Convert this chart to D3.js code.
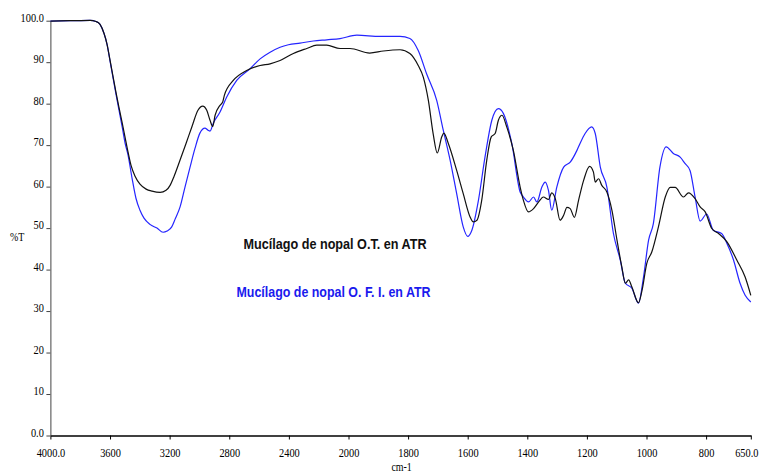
<!DOCTYPE html>
<html>
<head>
<meta charset="utf-8">
<script src="https://cdn.jsdelivr.net/npm/d3@7"></script>
<style>
  html, body { margin: 0; padding: 0; background: #fff; overflow: hidden; }
  svg { display: block; }
</style>
</head>
<body>
<svg id="chart" width="760" height="473"></svg>
<script>
// Wavenumber (cm-1) sampling points and %T readings for the two ATR spectra
const wnOT = [4000,3868,3734,3694,3667,3640,3620,3600,3580,3560,3540,3519,3499,3479,3459,3432,3399,3358,3318,3264,3224,3197,3170,3130,3090,3050,3010,2978,2951,2929,2911,2895,2862,2844,2833,2773,2683,2593,2526,2459,2370,2280,2213,2146,2057,1995,1929,1883,1827,1794,1766,1749,1732,1716,1702,1687,1680,1665,1637,1615,1592,1581,1569,1553,1536,1521,1508,1497,1485,1469,1447,1424,1413,1396,1379,1362,1346,1329,1318,1306,1290,1278,1267,1256,1242,1228,1211,1191,1178,1172,1161,1150,1133,1116,1099,1083,1071,1060,1049,1027,1015,999,982,960,937,920,904,876,859,837,820,803,781,758,730,697,669,650];
const tOT  = [99.9,100.0,100.1,99.8,99.1,96.9,94.3,90.5,86.6,82.7,79.1,75.5,71.9,68.3,65.1,62.5,60.6,59.4,58.9,58.6,59.1,60.3,62.5,66.4,70.4,74.5,78.4,79.4,78.4,76.0,74.5,77.2,79.6,80.4,82.0,85.6,88.0,89.2,89.6,90.4,92.1,93.3,94.1,94.1,93.3,93.3,92.2,92.7,93.0,92.1,89.2,86.4,80.8,72.8,68.1,72.0,72.9,70.4,63.9,58.3,52.7,51.5,51.9,56.7,66.4,72.0,72.8,76.0,77.2,74.4,68.8,59.9,56.7,53.9,54.7,56.3,57.5,56.9,58.5,57.1,51.9,53.1,55.0,54.7,52.6,56.7,61.5,64.9,63.5,61.1,61.9,60.3,58.7,54.3,47.1,40.7,36.7,37.5,35.8,32.0,35.0,41.5,44.3,50.3,57.5,59.8,59.8,57.5,58.5,57.1,55.1,53.9,49.9,48.7,46.7,42.3,38.2,33.8];

const wnOFI = [4000,3868,3734,3694,3667,3640,3620,3600,3580,3560,3540,3519,3499,3479,3452,3426,3399,3372,3332,3285,3244,3217,3186,3164,3130,3097,3063,3030,2997,2963,2942,2929,2907,2862,2817,2750,2661,2593,2526,2459,2403,2325,2236,2146,2057,1972,1894,1827,1794,1766,1738,1704,1682,1659,1637,1615,1600,1586,1564,1542,1519,1497,1480,1452,1424,1413,1396,1379,1368,1351,1340,1329,1318,1301,1278,1256,1233,1223,1206,1184,1172,1155,1133,1111,1088,1071,1049,1027,1010,993,977,955,934,910,887,871,854,837,820,798,776,748,730,708,686,669,650];
const tOFI  = [99.9,100.0,100.1,99.8,99.1,96.9,94.3,90.3,86.3,82.3,78.5,74.5,70.5,67.6,62.0,57.2,54.3,52.4,50.9,50.0,49.0,49.3,50.3,52.1,55.1,59.9,64.7,69.2,72.9,74.1,73.6,73.4,75.3,78.0,81.6,85.6,88.4,90.8,92.4,93.6,94.2,94.6,95.1,95.4,95.7,96.5,96.2,96.2,95.7,92.8,87.2,80.8,73.6,66.4,58.3,50.3,48.0,49.5,56.7,67.1,76.0,78.8,77.6,70.4,58.7,57.5,56.3,57.5,56.3,59.9,61.1,59.1,54.3,59.9,64.7,65.9,68.8,70.4,72.8,74.4,72.8,64.7,59.9,48.7,42.3,36.7,35.5,31.9,38.2,47.1,51.1,64.7,69.6,68.0,67.1,65.6,63.9,57.5,51.7,53.4,49.5,48.7,46.3,42.3,36.7,33.8,32.2];

// Axis ticks
const xTicks = [4000,3600,3200,2800,2400,2000,1800,1600,1400,1200,1000,800,650];
const xTickLabels = ["4000.0","3600","3200","2800","2400","2000","1800","1600","1400","1200","1000","800","650.0"];
const yTicks = [0,10,20,30,40,50,60,70,80,90,100];
const yTickLabels = ["0.0","10","20","30","40","50","60","70","80","90","100.0"];

const legendLabels = ["Mucílago de nopal O.T. en ATR", "Mucílago de nopal O. F. I. en ATR"];

const svg = d3.select("#chart");
const SQ = 0.83; // horizontal squeeze of the serif tick lettering

// Wavenumber axis changes step at 2000 cm-1 (400 per division above, 200 below)
const x = d3.scaleLinear().domain([4000, 2000, 650]).range([50.4, 348.5, 750.8]);
const y = d3.scaleLinear().domain([0, 100]).range([435.5, 20.7]);

// X axis
const xAxis = svg.append("g")
  .attr("transform", `translate(0,${y(0)})`)
  .call(d3.axisBottom(x).tickValues(xTicks)
    .tickFormat((d, i) => xTickLabels[i]).tickSize(4).tickSizeOuter(0));
xAxis.select(".domain").attr("stroke", "#000").attr("stroke-width", 1.3);
xAxis.selectAll(".tick line").attr("stroke", "#000");
xAxis.selectAll(".tick text")
  .attr("font-family", "'Liberation Serif', 'Times New Roman', serif")
  .attr("font-size", 12.5).attr("fill", "#000")
  .attr("y", 0).attr("dy", 0)
  // the last label sits at the right edge, so it is nudged inward to stay whole
  .attr("transform", d => `translate(${d === 650 ? -4.5 : 0},21) scale(${SQ},1)`);

// Y axis
const yAxis = svg.append("g")
  .attr("transform", `translate(${x(4000)},0)`)
  .call(d3.axisLeft(y).tickValues(yTicks)
    .tickFormat((d, i) => yTickLabels[i]).tickSize(4).tickSizeOuter(0));
yAxis.select(".domain").attr("stroke", "#444").attr("stroke-width", 1);
yAxis.selectAll(".tick line").attr("stroke", "#444");
yAxis.selectAll(".tick text")
  .attr("font-family", "'Liberation Serif', 'Times New Roman', serif")
  .attr("font-size", 12.5).attr("fill", "#000")
  .attr("x", 0).attr("dy", 0)
  .attr("transform", `translate(-6.5,0.5) scale(${SQ},1)`);

// Axis titles
svg.append("text")
  .attr("font-family", "'Liberation Serif', 'Times New Roman', serif")
  .attr("font-size", 12).attr("text-anchor", "middle")
  .attr("transform", `translate(${(x(4000) + x(650)) / 2 + 1},471) scale(${SQ},1)`)
  .text("cm-1");
svg.append("text")
  .attr("font-family", "'Liberation Serif', 'Times New Roman', serif")
  .attr("font-size", 12).attr("text-anchor", "start")
  .attr("transform", `translate(10,241) scale(${SQ},1)`)
  .text("%T");

// Spectra
const line = d3.line().curve(d3.curveMonotoneX);
function draw(wn, t, color) {
  svg.append("path")
    .attr("fill", "none")
    .attr("stroke", color)
    .attr("stroke-width", 1.2)
    .attr("stroke-linejoin", "round")
    .attr("d", line(wn.map((w, i) => [x(w), y(t[i])])));
}
draw(wnOFI, tOFI, "#2525ff");
draw(wnOT, tOT, "#111");

// In-plot labels naming each spectrum
svg.append("text")
  .attr("x", 243.5).attr("y", 249)
  .attr("font-family", "'Liberation Sans', Arial, sans-serif")
  .attr("font-weight", "bold").attr("font-size", 15)
  .attr("fill", "#111")
  .attr("textLength", 183).attr("lengthAdjust", "spacingAndGlyphs")
  .text(legendLabels[0]);
svg.append("text")
  .attr("x", 236.5).attr("y", 297)
  .attr("font-family", "'Liberation Sans', Arial, sans-serif")
  .attr("font-weight", "bold").attr("font-size", 15)
  .attr("fill", "#1a1aee")
  .attr("textLength", 194).attr("lengthAdjust", "spacingAndGlyphs")
  .text(legendLabels[1]);
</script>
</body>
</html>
